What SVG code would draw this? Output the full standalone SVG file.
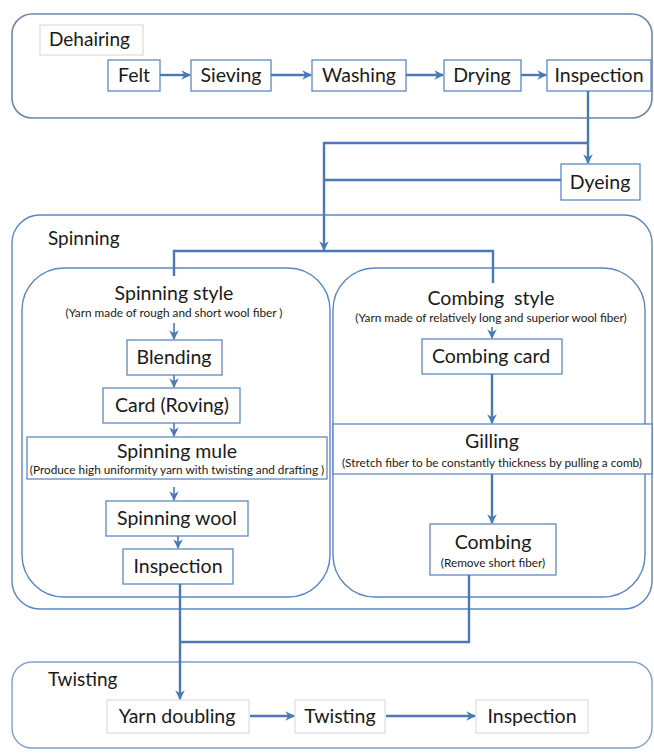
<svg xmlns="http://www.w3.org/2000/svg" width="654" height="756" viewBox="0 0 654 756">
  <style>
    .stage { fill: #ffffff; stroke: #6f86a8; stroke-width: 1.6; }
    .col { fill: #ffffff; stroke: #5b86c2; stroke-width: 1.4; }
    .box { fill: #ffffff; stroke: #4f7fbf; stroke-width: 1.2; }
    .soft { fill: #ffffff; stroke: #d6d6d6; stroke-width: 1; }
    .t { font-family: Lato, "Liberation Sans", sans-serif; fill: #1a1a1a; }
    .lbl { font-size: 19px; }
    .big { font-size: 19.5px; text-anchor: middle; }
    .sub { font-size: 11.8px; text-anchor: middle; }
    .wire { fill: none; stroke: #4a78b8; stroke-width: 2.4; }
    .thin { fill: none; stroke: #4a78b8; stroke-width: 1.6; }
  </style>
  <defs>
    <marker id="ah" viewBox="0 0 10 10" refX="9" refY="5" markerWidth="4" markerHeight="4" orient="auto" markerUnits="strokeWidth">
      <path d="M0,0 L10,5 L0,10 L3,5 z" fill="#4a78b8"/>
    </marker>
    <marker id="ahs" viewBox="0 0 10 10" refX="9" refY="5" markerWidth="6" markerHeight="6" orient="auto" markerUnits="strokeWidth">
      <path d="M0,0 L10,5 L0,10 L3,5 z" fill="#4a78b8"/>
    </marker>
  </defs>

  <!-- stage frames -->
  <g id="dehairing-stage">
    <rect class="stage" x="12" y="14" width="640" height="104" rx="20"/>
    <rect class="soft" x="40" y="25" width="103" height="30"/>
    <text class="t lbl" x="49" y="46">Dehairing</text>
  </g>
  <g id="spinning-stage">
    <rect class="col" x="12" y="215" width="640" height="394" rx="28"/>
    <text class="t lbl" x="48" y="245">Spinning</text>
  </g>
  <g id="twisting-stage">
    <rect class="col" x="12" y="662" width="640" height="86" rx="20" style="stroke:#7ea0cf"/>
    <text class="t lbl" x="48" y="686">Twisting</text>
  </g>

  <!-- spinning columns -->
  <g id="spinning-style">
    <rect class="col" x="22" y="268" width="308" height="329" rx="42"/>
    <text class="t big" x="174" y="300">Spinning style</text>
    <text class="t sub" x="174" y="317">(Yarn made of rough and short wool fiber )</text>
  </g>
  <g id="combing-style">
    <rect class="col" x="333" y="268" width="312" height="329" rx="42"/>
    <text class="t big" x="491" y="305" xml:space="preserve">Combing  style</text>
    <text class="t sub" x="491" y="322">(Yarn made of relatively long and superior wool fiber)</text>
  </g>

  <!-- dehairing nodes -->
  <g id="felt"><rect class="box" x="108" y="60" width="52" height="31"/><text class="t big" x="134" y="82">Felt</text></g>
  <g id="sieving"><rect class="box" x="191" y="60" width="80" height="31"/><text class="t big" x="231" y="82">Sieving</text></g>
  <g id="washing"><rect class="box" x="312" y="60" width="94" height="31"/><text class="t big" x="359" y="82">Washing</text></g>
  <g id="drying"><rect class="box" x="444" y="60" width="77" height="31"/><text class="t big" x="482" y="82">Drying</text></g>
  <g id="inspection-1"><rect class="box" x="547" y="60" width="104" height="31"/><text class="t big" x="599" y="82">Inspection</text></g>
  <g id="dyeing"><rect class="box" x="561" y="164" width="79" height="36"/><text class="t big" x="600" y="189">Dyeing</text></g>

  <!-- spinning-style nodes -->
  <g id="blending"><rect class="box" x="127" y="340" width="95" height="35"/><text class="t big" x="174" y="364">Blending</text></g>
  <g id="card-roving"><rect class="box" x="103" y="388" width="137" height="35"/><text class="t big" x="172" y="412">Card (Roving)</text></g>
  <g id="spinning-mule">
    <rect class="box" x="27" y="437" width="300" height="42"/>
    <text class="t big" x="177" y="458">Spinning mule</text>
    <text class="t sub" x="177" y="474">(Produce high uniformity yarn with twisting and drafting )</text>
  </g>
  <g id="spinning-wool"><rect class="box" x="106" y="501" width="142" height="35"/><text class="t big" x="177" y="525">Spinning wool</text></g>
  <g id="inspection-2"><rect class="box" x="123" y="549" width="110" height="35"/><text class="t big" x="178" y="573">Inspection</text></g>

  <!-- combing-style nodes -->
  <g id="combing-card"><rect class="box" x="422" y="339" width="140" height="35"/><text class="t big" x="491" y="363">Combing card</text></g>
  <g id="gilling">
    <rect class="box" x="333" y="424" width="319" height="50"/>
    <text class="t big" x="492" y="448">Gilling</text>
    <text class="t sub" x="492" y="467">(Stretch fiber to be constantly thickness by pulling a comb)</text>
  </g>
  <g id="combing">
    <rect class="box" x="430" y="524" width="126" height="51"/>
    <text class="t big" x="493" y="549">Combing</text>
    <text class="t sub" x="493" y="567">(Remove short fiber)</text>
  </g>

  <!-- twisting nodes -->
  <g id="yarn-doubling"><rect class="soft" x="107" y="700" width="142" height="33"/><text class="t big" x="177" y="723">Yarn doubling</text></g>
  <g id="twisting"><rect class="soft" x="295" y="700" width="90" height="33"/><text class="t big" x="340" y="723">Twisting</text></g>
  <g id="inspection-3"><rect class="soft" x="476" y="700" width="112" height="33"/><text class="t big" x="532" y="723">Inspection</text></g>

  <!-- connectors -->
  <g id="connectors">
    <line class="wire" x1="160" y1="75" x2="190" y2="75" marker-end="url(#ah)"/>
    <line class="wire" x1="271" y1="75" x2="311" y2="75" marker-end="url(#ah)"/>
    <line class="wire" x1="406" y1="75" x2="443" y2="75" marker-end="url(#ah)"/>
    <line class="wire" x1="521" y1="75" x2="546" y2="75" marker-end="url(#ah)"/>
    <line class="wire" x1="588" y1="91" x2="588" y2="163" marker-end="url(#ah)"/>
    <polyline class="wire" points="588,143 324,143 324,250" marker-end="url(#ah)"/>
    <line class="wire" x1="561" y1="180" x2="324" y2="180"/>
    <polyline class="wire" points="174,276 174,251 493,251 493,283"/>

    <line class="thin" x1="174" y1="323" x2="174" y2="339" marker-end="url(#ahs)"/>
    <line class="thin" x1="174" y1="375" x2="174" y2="387" marker-end="url(#ahs)"/>
    <line class="thin" x1="174" y1="423" x2="174" y2="436" marker-end="url(#ahs)"/>
    <line class="thin" x1="174" y1="487" x2="174" y2="500" marker-end="url(#ahs)"/>
    <line class="thin" x1="178" y1="536" x2="178" y2="548" marker-end="url(#ahs)"/>

    <line class="thin" x1="492" y1="327" x2="492" y2="338" marker-end="url(#ahs)"/>
    <line class="wire" x1="492" y1="374" x2="492" y2="423" marker-end="url(#ah)"/>
    <line class="wire" x1="492" y1="474" x2="492" y2="523" marker-end="url(#ah)"/>

    <polyline class="wire" points="469,575 469,642 180,642"/>
    <line class="wire" x1="180" y1="584" x2="180" y2="699" marker-end="url(#ah)"/>

    <line class="wire" x1="250" y1="716" x2="294" y2="716" marker-end="url(#ah)"/>
    <line class="wire" x1="386" y1="716" x2="475" y2="716" marker-end="url(#ah)"/>
  </g>
</svg>
